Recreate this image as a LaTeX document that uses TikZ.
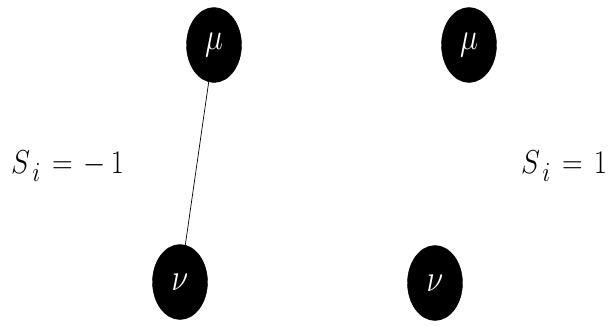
\documentclass[tikz,border=0pt]{standalone}
\usetikzlibrary{shapes.geometric}
\tikzset{
  vertex/.style={ellipse, fill=black, draw=black, minimum width=55pt, minimum height=75pt, inner sep=0pt, text=white, font=\Huge},
  label text/.style={inner sep=0pt, font=\Huge},
  bond/.style={draw=black, line width=0.7pt}
}
\newcommand{\vsym}[1]{\scalebox{1.22}[1.53]{$#1$}}
\newcommand{\lsym}[1]{\scalebox{1.15}[1.33]{$#1$}}
\newcommand{\lowsub}{_{\raisebox{-3pt}{$\scriptstyle\,i$}}}
\begin{document}
\begin{tikzpicture}[x=1pt,y=-1pt]
\useasboundingbox (0,0) rectangle (610,325);
\node[vertex] (mu1) at (214,45) {\vsym{\mu}};
\node[vertex] (nu1) at (180,282) {\vsym{\nu}};
\node[vertex] (mu2) at (469,45) {\vsym{\mu}};
\node[vertex] (nu2) at (435,283) {\vsym{\nu}};
\draw[bond] (mu1) -- (nu1);
\node[label text, anchor=base west] (s1) at (11,173) {\lsym{S\lowsub\mkern2mu = \mkern2mu -\,1}};
\node[label text, anchor=base west] (s2) at (521,173) {\lsym{S\lowsub\mkern2mu = \mkern2mu 1}};
\end{tikzpicture}
\end{document}
